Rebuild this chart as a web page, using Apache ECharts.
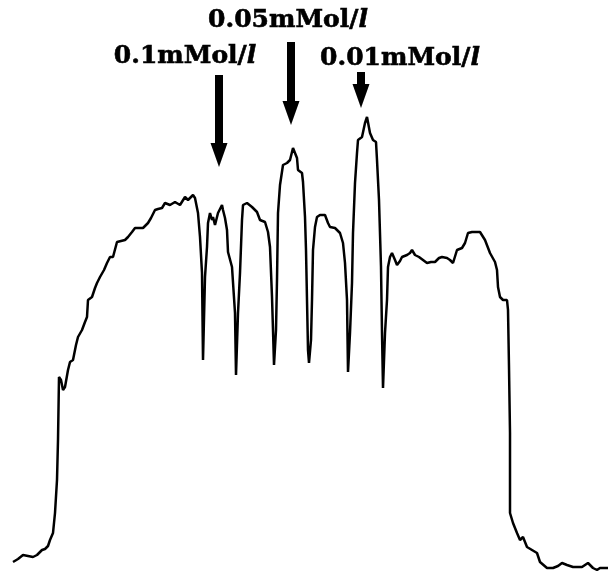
<!DOCTYPE html>
<html>
<head>
<meta charset="utf-8">
<script src="https://cdn.jsdelivr.net/npm/echarts@6/dist/echarts.min.js"></script>
<style>
html,body{margin:0;padding:0;background:#fff;}
#c{width:616px;height:579px;}
</style>
</head>
<body>
<div id="c"></div>
<script>
// Trace: position along scan and signal intensity (arbitrary units)
var positions = [13,18,23,28,33,37,42,45,48,50,53,55,57,58,59,61,63,65,68,70,73,76,78,82,85,87,88,92,95,97,100,104,107,110,113,117,121,125,128,132,135,140,143,148,151,155,158,162,165,170,175,180,185,188,193,195,197,198,200,202,203,205,207,208,210,212,213,215,218,222,223,225,227,228,232,235,236,238,240,242,243,247,252,257,260,265,268,270,272,273,274,276,277,278,280,283,287,290,293,297,298,302,303,305,306,307,308,309,311,312,313,315,317,320,325,328,330,335,340,343,345,347,348,350,352,353,355,357,358,362,365,367,370,373,376,377,379,381,382,383,385,387,388,390,392,395,397,400,402,407,410,412,415,419,423,427,431,435,439,442,447,450,453,457,462,465,468,472,476,480,485,490,495,497,498,500,503,507,508,509,510,510,513,517,520,523,527,532,537,540,547,553,558,562,567,573,582,588,593,597,600,608];
var traceY = [562,559,555,556,557,555,550,549,546,540,533,513,480,440,377,380,390,387,370,362,360,345,337,330,322,317,300,297,288,283,277,270,263,257,257,242,241,240,237,232,228,228,228,223,218,210,209,208,203,205,202,205,197,200,195,198,200,213,237,273,360,277,247,223,213,220,217,225,213,205,210,218,230,252,267,313,375,313,273,220,205,203,207,212,220,222,232,247,297,330,365,330,280,213,185,165,163,160,148,158,170,173,182,217,250,300,350,363,340,300,250,227,217,215,215,223,227,228,233,243,263,300,372,333,283,233,183,153,140,137,123,117,133,140,142,160,200,267,333,388,333,300,267,257,253,260,265,261,257,255,253,250,255,257,260,263,262,262,258,257,258,260,263,250,248,243,233,232,232,232,240,253,262,270,287,297,300,300,310,367,433,513,523,533,540,537,547,550,553,562,568,568,566,563,565,567,567,563,568,570,568,568];
var H = 579;
var signal = traceY.map(function(v){ return H - v; });

// Annotations
var labelTexts = ['0.1mMol/{i|l}', '0.05mMol/{i|l}', '0.01mMol/{i|l}'];
var labelX = [185, 288, 400];
var labelY = [H - 56, H - 20, H - 58];
var arrowX = [219, 291, 361];
var arrowTop = [H - 75, H - 42, H - 72];
var arrowTip = [H - 167, H - 125, H - 108];

var data = positions.map(function(x, i){ return [x, signal[i]]; });

var textStyle = {
  fontFamily: 'DejaVu Serif', fontWeight: 'bold', fontSize: 25, color: '#000',
  textBorderColor: '#000', textBorderWidth: 0.6
};

var chart = echarts.init(document.getElementById('c'), null, {renderer:'canvas'});
chart.setOption({
  backgroundColor: '#ffffff',
  animation: false,
  grid: {left: 0, right: 0, top: 0, bottom: 0},
  xAxis: {type: 'value', min: 0, max: 616, show: false},
  yAxis: {type: 'value', min: 0, max: 579, show: false},
  series: [{
    type: 'line',
    data: data,
    showSymbol: false,
    symbol: 'none',
    lineStyle: {color: '#000', width: 2.5},
    markLine: {
      silent: true,
      symbol: ['none', 'triangle'],
      symbolSize: [17, 24],
      lineStyle: {color: '#000', width: 8, type: 'solid'},
      label: {show: false},
      data: arrowX.map(function(x, i){
        return [{coord: [x, arrowTop[i]]}, {coord: [x, arrowTip[i] + 12]}];
      })
    },
    markPoint: {
      silent: true,
      symbol: 'rect',
      symbolSize: 0,
      data: labelX.map(function(x, i){
        return {
          coord: [x, labelY[i]],
          label: Object.assign({
            show: true,
            position: 'inside',
            formatter: labelTexts[i],
            rich: {
              i: Object.assign({}, textStyle, {fontStyle: 'italic'})
            }
          }, textStyle)
        };
      })
    }
  }]
});
</script>
</body>
</html>
